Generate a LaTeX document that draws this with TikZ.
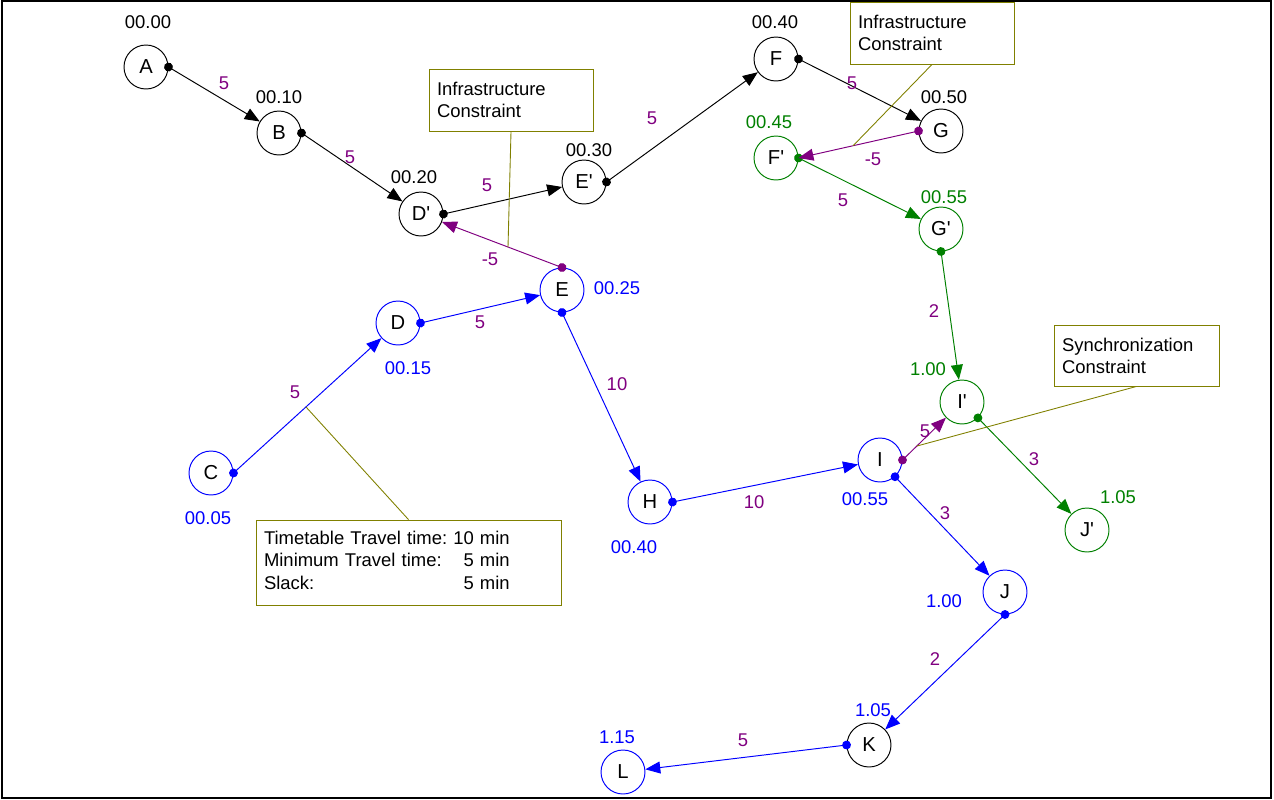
\documentclass[tikz,border=0pt]{standalone}
\usepackage{fontspec}
\setmainfont{Liberation Sans}
\usetikzlibrary{arrows.meta}

\definecolor{netpurple}{RGB}{128,0,128}
\definecolor{netgreen}{RGB}{0,128,0}
\definecolor{netblue}{RGB}{0,0,255}
\definecolor{netolive}{RGB}{128,128,0}

\newcommand{\pr}{\textquotesingle}

\tikzset{
  stn/.style = {circle, draw, line width=0.55pt, minimum size=0.88cm, inner sep=0pt,
                font=\fontsize{11.5}{13}\selectfont},
  tm/.style = {font=\fontsize{10.5}{12}\selectfont, inner sep=0pt},
  wt/.style = {font=\fontsize{10.5}{12}\selectfont, inner sep=0pt, text=netpurple},
  link/.style = {line width=0.55pt, shorten <=-2.5pt,
                 {Circle[length=5pt]}-{Triangle[length=8.5pt,width=6.8pt]}},
  note/.style = {draw=netolive, fill=white, line width=0.5pt, align=left,
                 inner xsep=0.16cm, font=\fontsize{10.5}{12.6}\selectfont},
  lead/.style = {draw=netolive, line width=0.5pt},
}

\begin{document}
\begin{tikzpicture}[x=0.02cm, y=-0.02cm]

  \useasboundingbox (0,0) rectangle (1274,799);
  \draw[line width=1.1pt] (2,1) rectangle (1271,798);

  % first train (black)
  \node[stn] (A) at (146,67) {A};
  \node[stn] (B) at (279,133) {B};
  \node[stn] (Dp) at (421,214) {D\pr};
  \node[stn] (Ep) at (584,182) {E\pr};
  \node[stn] (F) at (776,59) {F};
  \node[stn] (G) at (941,131) {G};

  % second train (blue)
  \node[stn, draw=netblue] (C) at (211,473) {C};
  \node[stn, draw=netblue] (D) at (398,323) {D};
  \node[stn, draw=netblue] (E) at (562,290) {E};
  \node[stn, draw=netblue] (H) at (650,502) {H};
  \node[stn, draw=netblue] (I) at (880,460) {I};
  \node[stn, draw=netblue] (J) at (1005,592) {J};
  \node[stn] (K) at (869,745) {K};
  \node[stn, draw=netblue] (L) at (623,772) {L};

  % third train (green)
  \node[stn, draw=netgreen] (Fp) at (776,158) {F\pr};
  \node[stn, draw=netgreen] (Gp) at (941,229) {G\pr};
  \node[stn, draw=netgreen] (Ip) at (962,402) {I\pr};
  \node[stn, draw=netgreen] (Jp) at (1087,530) {J\pr};

  % times
  \node[tm] (tA) at (148,22) {00.00};
  \node[tm] (tB) at (279,97) {00.10};
  \node[tm] (tDp) at (414,177) {00.20};
  \node[tm] (tEp) at (589,150) {00.30};
  \node[tm] (tF) at (775,22) {00.40};
  \node[tm] (tG) at (944,97) {00.50};
  \node[tm, text=netblue] (tC) at (208,518) {00.05};
  \node[tm, text=netblue] (tD) at (408,368) {00.15};
  \node[tm, text=netblue] (tE) at (617,288) {00.25};
  \node[tm, text=netblue] (tH) at (634,547) {00.40};
  \node[tm, text=netblue] (tI) at (865,499) {00.55};
  \node[tm, text=netblue] (tJ) at (944,601) {1.00};
  \node[tm, text=netblue] (tK) at (873,710) {1.05};
  \node[tm, text=netblue] (tL) at (617,737) {1.15};
  \node[tm, text=netgreen] (tFp) at (769,122) {00.45};
  \node[tm, text=netgreen] (tGp) at (944,197) {00.55};
  \node[tm, text=netgreen] (tIp) at (928,369) {1.00};
  \node[tm, text=netgreen] (tJp) at (1118,497) {1.05};

  % running arcs
  \draw[link] (A.east) -- (B);
  \draw[link] (B.east) -- (Dp);
  \draw[link] (Dp.east) -- (Ep);
  \draw[link] (Ep.east) -- (F);
  \draw[link] (F.east) -- (G);
  \draw[link, netblue] (C.east) -- coordinate[pos=0.49] (cCD) (D);
  \draw[link, netblue] (D.east) -- (E);
  \draw[link, netblue] (E.south) -- (H);
  \draw[link, netblue] (H.east) -- (I);
  \draw[link, netblue] (I.-48) -- (J);
  \draw[link, netblue] (J.south) -- (K);
  \draw[link, netblue] (K.west) -- (L);
  \draw[link, netgreen] (Fp.east) -- (Gp);
  \draw[link, netgreen] (Gp.south) -- (Ip);
  \draw[link, netgreen] (Ip.-45) -- (Jp);

  % constraint arcs
  \draw[link, netpurple] (E.north) -- coordinate[pos=0.45] (cEDp) (Dp);
  \draw[link, netpurple] (G.west) -- coordinate[pos=0.545] (cGFp) (Fp.east);
  \draw[link, netpurple] (I.east) -- coordinate[pos=0.33] (cIIp) (Ip);

  % weights
  \node[wt] (wAB) at (224,83) {5};
  \node[wt] (wBDp) at (350,157) {5};
  \node[wt] (wDpEp) at (487,185) {5};
  \node[wt] (wEpF) at (652,118) {5};
  \node[wt] (wFG) at (852,83) {5};
  \node[wt] (wGFp) at (873,159) {-5};
  \node[wt] (wFpGp) at (843,200) {5};
  \node[wt] (wGpIp) at (934,311) {2};
  \node[wt] (wEDp) at (490,259) {-5};
  \node[wt] (wDE) at (480,322) {5};
  \node[wt] (wCD) at (295,392) {5};
  \node[wt] (wEH) at (617,384) {10};
  \node[wt] (wHI) at (754,502) {10};
  \node[wt] (wIIp) at (925,431) {5};
  \node[wt] (wIpJp) at (1034,459) {3};
  \node[wt] (wIJ) at (945,513) {3};
  \node[wt] (wJK) at (935,659) {2};
  \node[wt] (wKL) at (743,740) {5};

  % notes
  \node[note, minimum width=3.28cm, minimum height=1.24cm, text width=2.96cm]
    (infraA) at (511,100) {Infrastructure\\Constraint};
  \node[note, minimum width=3.28cm, minimum height=1.24cm, text width=2.96cm]
    (infraB) at (932,33) {Infrastructure\\Constraint};
  \node[note, minimum width=3.30cm, minimum height=1.22cm, text width=2.98cm]
    (sync) at (1136.5,355.5) {Synchronization\\Constraint};
  \node[note, minimum width=6.10cm, minimum height=1.70cm, text width=5.78cm]
    (slack) at (408.5,562.5) {%
      \begin{tabular}{@{}l@{\ }r@{}}
        Timetable Travel time: & 10 min\\
        Minimum Travel time: & 5 min\\
        Slack: & 5 min
      \end{tabular}};

  \draw[lead] (infraA.south) -- (cEDp);
  \draw[lead] (infraB.south) -- (cGFp);
  \draw[lead] (sync.south) -- (cIIp);
  \draw[lead] (slack.north) -- (cCD);

\end{tikzpicture}
\end{document}
